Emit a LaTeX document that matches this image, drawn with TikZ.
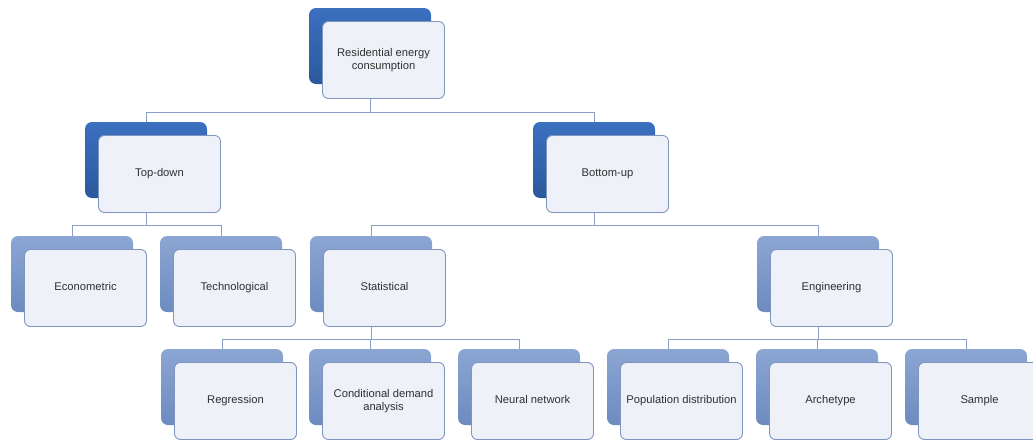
\documentclass[tikz,border=0pt]{standalone}
\usepackage{fontspec}
\setmainfont{Liberation Sans}
\definecolor{darkA}{HTML}{3B70BF}
\definecolor{darkB}{HTML}{2B599D}
\definecolor{lightA}{HTML}{8CA6D3}
\definecolor{lightB}{HTML}{6D8BC0}
\definecolor{frontfill}{HTML}{EEF1F8}
\definecolor{frontline}{HTML}{7E95C2}
\definecolor{connline}{HTML}{8A9FC8}
\definecolor{txt}{HTML}{303030}
\begin{document}
\begin{tikzpicture}[x=1pt,y=-1pt,
  backdark/.style={rectangle,rounded corners=7pt,minimum width=122pt,minimum height=76pt,inner sep=0pt,top color=darkA,bottom color=darkB,draw=none},
  backlight/.style={rectangle,rounded corners=7pt,minimum width=122pt,minimum height=76pt,inner sep=0pt,top color=lightA,bottom color=lightB,draw=none},
  frontbox/.style={rectangle,rounded corners=6pt,minimum width=122pt,minimum height=77pt,inner sep=2pt,fill=frontfill,draw=frontline,line width=0.9pt,align=center,font=\fontsize{11.2}{13.5}\selectfont,text=txt},
  oneline/.style={text height=8.2pt,text depth=2.4pt},
  conn/.style={draw=connline,line width=0.9pt}]
\useasboundingbox (0,0) rectangle (1033,439);
\clip (0,0) rectangle (1033,439);
% back boxes positions (centers)
\coordinate (p-root) at (370,46);
\coordinate (p-td) at (146,160);
\coordinate (p-bu) at (594,160);
\coordinate (p-eco) at (72,274);
\coordinate (p-tec) at (221,274);
\coordinate (p-sta) at (371,274);
\coordinate (p-eng) at (818,274);
\coordinate (p-reg) at (222,387);
\coordinate (p-cda) at (370,387);
\coordinate (p-nn) at (519,387);
\coordinate (p-pop) at (668,387);
\coordinate (p-arc) at (817,387);
\coordinate (p-sam) at (966,387);
% back boxes
\node[backdark] (rootb) at (p-root) {};
\node[backdark] (tdb) at (p-td) {};
\node[backdark] (bub) at (p-bu) {};
\foreach \n in {eco,tec,sta,eng,reg,cda,nn,pop,arc,sam}
  \node[backlight] (\n b) at (p-\n) {};
% connectors
\draw[conn] (rootb.south) -- ++(0,28) -| (tdb.north);
\draw[conn] (rootb.south) -- ++(0,28) -| (bub.north);
\draw[conn] (tdb.south) -- ++(0,27) -| (ecob.north);
\draw[conn] (tdb.south) -- ++(0,27) -| (tecb.north);
\draw[conn] (bub.south) -- ++(0,27) -| (stab.north);
\draw[conn] (bub.south) -- ++(0,27) -| (engb.north);
\draw[conn] (stab.south) -- ++(0,27) -| (regb.north);
\draw[conn] (stab.south) -- ++(0,27) -| (cdab.north);
\draw[conn] (stab.south) -- ++(0,27) -| (nnb.north);
\draw[conn] (engb.south) -- ++(0,27) -| (popb.north);
\draw[conn] (engb.south) -- ++(0,27) -| (arcb.north);
\draw[conn] (engb.south) -- ++(0,27) -| (samb.north);
% front boxes
\node[frontbox] (rootf) at ([shift={(13.5,14)}]p-root) {Residential energy\\consumption};
\node[frontbox,oneline] (tdf) at ([shift={(13.5,14)}]p-td) {Top-down};
\node[frontbox,oneline] (buf) at ([shift={(13.5,14)}]p-bu) {Bottom-up};
\node[frontbox,oneline] (ecof) at ([shift={(13.5,14)}]p-eco) {Econometric};
\node[frontbox,oneline] (tecf) at ([shift={(13.5,14)}]p-tec) {Technological};
\node[frontbox,oneline] (staf) at ([shift={(13.5,14)}]p-sta) {Statistical};
\node[frontbox,oneline] (engf) at ([shift={(13.5,14)}]p-eng) {Engineering};
\node[frontbox,oneline] (regf) at ([shift={(13.5,14)}]p-reg) {Regression};
\node[frontbox] (cdaf) at ([shift={(13.5,14)}]p-cda) {Conditional demand\\analysis};
\node[frontbox,oneline] (nnf) at ([shift={(13.5,14)}]p-nn) {Neural network};
\node[frontbox,oneline] (popf) at ([shift={(13.5,14)}]p-pop) {Population distribution};
\node[frontbox,oneline] (arcf) at ([shift={(13.5,14)}]p-arc) {Archetype};
\node[frontbox,oneline] (samf) at ([shift={(13.5,14)}]p-sam) {Sample};
\end{tikzpicture}
\end{document}
